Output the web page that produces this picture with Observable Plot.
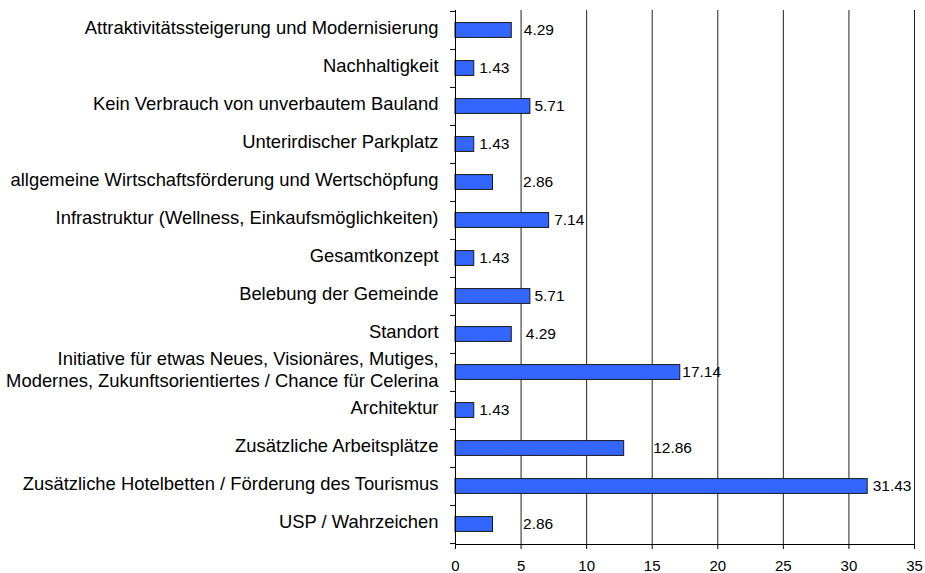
<!DOCTYPE html>
<html>
<head>
<meta charset="utf-8">
<script src="https://cdn.jsdelivr.net/npm/d3@7"></script>
<script src="https://cdn.jsdelivr.net/npm/@observablehq/plot@0.6"></script>
<style>
  html, body { margin: 0; padding: 0; background: #fff; }
  #chart svg { display: block; }
</style>
</head>
<body>
<div id="chart"></div>
<script>
// Categories, top to bottom
const categories = [
  "Attraktivitätssteigerung und Modernisierung",
  "Nachhaltigkeit",
  "Kein Verbrauch von unverbautem Bauland",
  "Unterirdischer Parkplatz",
  "allgemeine Wirtschaftsförderung und Wertschöpfung",
  "Infrastruktur (Wellness, Einkaufsmöglichkeiten)",
  "Gesamtkonzept",
  "Belebung der Gemeinde",
  "Standort",
  "Initiative für etwas Neues, Visionäres, Mutiges,\nModernes, Zukunftsorientiertes / Chance für Celerina",
  "Architektur",
  "Zusätzliche Arbeitsplätze",
  "Zusätzliche Hotelbetten / Förderung des Tourismus",
  "USP / Wahrzeichen"
];
const values = [4.29, 1.43, 5.71, 1.43, 2.86, 7.14, 1.43, 5.71, 4.29, 17.14, 1.43, 12.86, 31.43, 2.86];
const xTicks = [0, 5, 10, 15, 20, 25, 30, 35];
// label offsets (px) from bar end, as placed in the original
const labelShift = [12, 5, 4, 5, 30, 5, 5, 4, 14, 2, 5, 29, 5, 30];

const data = categories.map((c, i) => ({cat: c, value: values[i], shift: labelShift[i]}));

const W = 925, H = 573;
const mTop = 10, mBottom = 29, mLeft = 455, mRight = 11;
const step = (H - mTop - mBottom) / categories.length;
const barH = 15;
const inset = (step - barH) / 2;
const font = "Arial, 'Liberation Sans', sans-serif";

const chart = Plot.plot({
  width: W,
  height: H,
  marginTop: mTop,
  marginBottom: mBottom,
  marginLeft: mLeft,
  marginRight: mRight,
  style: {fontFamily: font, background: "#fff", color: "#000"},
  x: {domain: [0, 35]},
  y: {domain: categories, padding: 0},
  marks: [
    Plot.ruleX(xTicks.filter(d => d > 0), {stroke: "#222", strokeWidth: 1}),
    Plot.barX(data, {
      y: "cat", x: "value",
      fill: "#3366ff", stroke: "#1a1a1a", strokeWidth: 1,
      insetTop: inset, insetBottom: inset
    }),
    Plot.text(data, {
      y: "cat", x: "value",
      text: d => d.value.toFixed(2),
      textAnchor: "start",
      fontSize: 15.5,
      fill: "#000",
      render(index, scales, values, dims, context, next) {
        const g = next(index, scales, values, dims, context);
        d3.select(g).selectAll("text").each(function(_, k) {
          d3.select(this).attr("dx", data[index[k]].shift);
        });
        return g;
      }
    }),
    Plot.frame({anchor: "left", stroke: "#000"}),
    Plot.frame({anchor: "bottom", stroke: "#000"}),
    // category boundary ticks on the y axis
    Plot.ruleY(categories, {y: d => d, dy: -step / 2, x1: 0, x2: 0, insetLeft: -5, stroke: "#000"}),
    Plot.ruleY([categories[categories.length - 1]], {y: d => d, dy: step / 2, x1: 0, x2: 0, insetLeft: -5, stroke: "#000"}),
    Plot.axisX({
      ticks: xTicks, tickSize: 5, tickPadding: 11, fontSize: 15,
      stroke: "#000", label: null, tickFormat: d => String(d)
    }),
    Plot.axisY({
      tickSize: 0, tickPadding: 17, fontSize: 18.4, lineHeight: 1.2, dy: -4,
      label: null, textOverflow: null
    })
  ]
});

document.getElementById("chart").appendChild(chart);
</script>
</body>
</html>
